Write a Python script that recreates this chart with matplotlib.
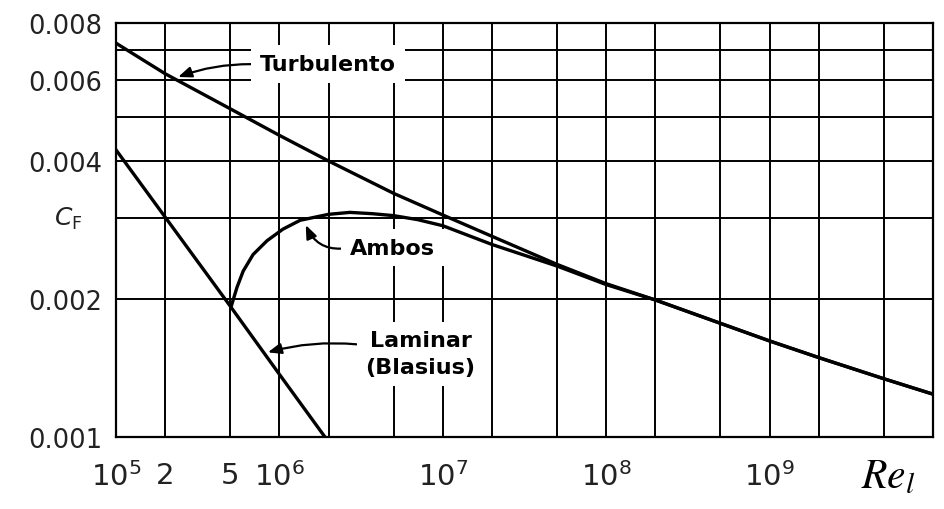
import matplotlib
matplotlib.use("Agg")
import matplotlib.pyplot as plt
from matplotlib.ticker import FixedLocator, FixedFormatter, NullLocator

# Datos (Re, C_F)
re_turb = [1e5, 2e5, 5e5, 1e6, 2e6, 5e6, 1e7, 2e7, 5e7, 1e8, 2e8, 5e8, 1e9, 2e9, 5e9, 1e10]
cf_turb = [0.00723, 0.0062, 0.0052, 0.00455, 0.0040, 0.0034, 0.00305, 0.00274, 0.00238,
           0.00216, 0.00199, 0.00177, 0.00162, 0.00149, 0.00134, 0.00124]

re_lam = [1e5, 5e5, 1e6, 1.9e6]
cf_lam = [0.00423, 0.00193, 0.00137, 0.0010]

re_ambos = [5.1e5, 5.3e5, 5.5e5, 6.0e5, 6.9e5, 8.4e5, 1.05e6, 1.34e6, 2e6, 2.7e6, 3.7e6,
            5e6, 7e6, 1e7, 2e7, 5e7, 1e8, 2e8, 5e8, 1e9, 2e9, 5e9, 1e10]
cf_ambos = [0.00194, 0.00203, 0.00212, 0.0023, 0.0025, 0.00268, 0.00284, 0.00297, 0.00306,
            0.00309, 0.00307, 0.00304, 0.00298, 0.00289, 0.00263, 0.00236, 0.00215, 0.00199,
            0.00177, 0.00162, 0.00149, 0.00134, 0.00124]

x_grid = [1e5, 2e5, 5e5, 1e6, 2e6, 5e6, 1e7, 2e7, 5e7, 1e8, 2e8, 5e8, 1e9, 2e9, 5e9, 1e10]
y_grid = [0.001, 0.002, 0.003, 0.004, 0.005, 0.006, 0.007, 0.008]

x_ticks = [1e5, 2e5, 5e5, 1e6, 1e7, 1e8, 1e9]
x_labels = [r"$\mathdefault{10^{5}}$", "2", "5", r"$\mathdefault{10^{6}}$",
            r"$\mathdefault{10^{7}}$", r"$\mathdefault{10^{8}}$", r"$\mathdefault{10^{9}}$"]
y_ticks = [0.001, 0.002, 0.004, 0.006, 0.008]
y_labels = ["0.001", "0.002", "0.004", "0.006", "0.008"]

plt.rcParams['font.family'] = ['DejaVu Sans']

fig = plt.figure(figsize=(9.44, 5.10), dpi=100)
ax = fig.add_axes([116/944, 72/510, 817/944, 414/510])
ax.set_xscale('log')
ax.set_yscale('log')
ax.set_xlim(1e5, 1e10)
ax.set_ylim(0.001, 0.008)

# rejilla
for xv in x_grid:
    ax.axvline(xv, color='black', lw=1.4, zorder=1)
for yv in y_grid:
    ax.axhline(yv, color='black', lw=1.4, zorder=1)

ax.plot(re_turb, cf_turb, color='black', lw=2.4, zorder=4)
ax.plot(re_lam, cf_lam, color='black', lw=2.4, zorder=4)
ax.plot(re_ambos, cf_ambos, color='black', lw=2.4, zorder=4)

ax.xaxis.set_major_locator(FixedLocator(x_ticks))
ax.xaxis.set_major_formatter(FixedFormatter(x_labels))
ax.xaxis.set_minor_locator(NullLocator())
ax.yaxis.set_major_locator(FixedLocator(y_ticks))
ax.yaxis.set_major_formatter(FixedFormatter(y_labels))
ax.yaxis.set_minor_locator(NullLocator())
ax.tick_params(axis='x', length=0, pad=17, labelsize=21, colors='#222222')
ax.tick_params(axis='y', length=0, pad=10, labelsize=18.5, colors='#222222')
for s in ax.spines.values():
    s.set_linewidth(1.6)

ax.text(-0.058, 0.003, r"$C_\mathrm{F}$", transform=ax.get_yaxis_transform(),
        ha='center', va='center', fontsize=18, color='#222222')

fig.text(861/944, 1 - 488/510, r"$Re_l$", fontsize=30, ha='left', va='baseline',
         math_fontfamily='stix')

box = dict(boxstyle='square,pad=0.4', facecolor='white', edgecolor='none')
arr = dict(arrowstyle='-|>,head_length=0.5,head_width=0.2', color='black', lw=1.6,
           shrinkA=0, shrinkB=0)

ax.annotate("Turbulento", xy=(2.4e5, 0.0061), xytext=(1.98e6, 0.0065),
            ha='center', va='center', fontsize=16, fontweight='bold', bbox=box, zorder=3,
            arrowprops=dict(arr, relpos=(0, 0.5), connectionstyle='arc3,rad=0.1'))
ax.annotate("Ambos", xy=(1.45e6, 0.0029), xytext=(4.9e6, 0.00259),
            ha='center', va='center', fontsize=16, fontweight='bold', bbox=box, zorder=3,
            arrowprops=dict(arr, relpos=(0, 0.5), connectionstyle='arc3,rad=-0.4'))
ax.annotate("Laminar\n(Blasius)", xy=(8.5e5, 0.00153), xytext=(7.3e6, 0.00152),
            ha='center', va='center', fontsize=16, fontweight='bold', bbox=box, zorder=3,
            linespacing=1.4,
            arrowprops=dict(arr, relpos=(0, 0.68), connectionstyle='arc3,rad=0.1'))

fig.savefig("out.png", dpi=100, facecolor='white')
